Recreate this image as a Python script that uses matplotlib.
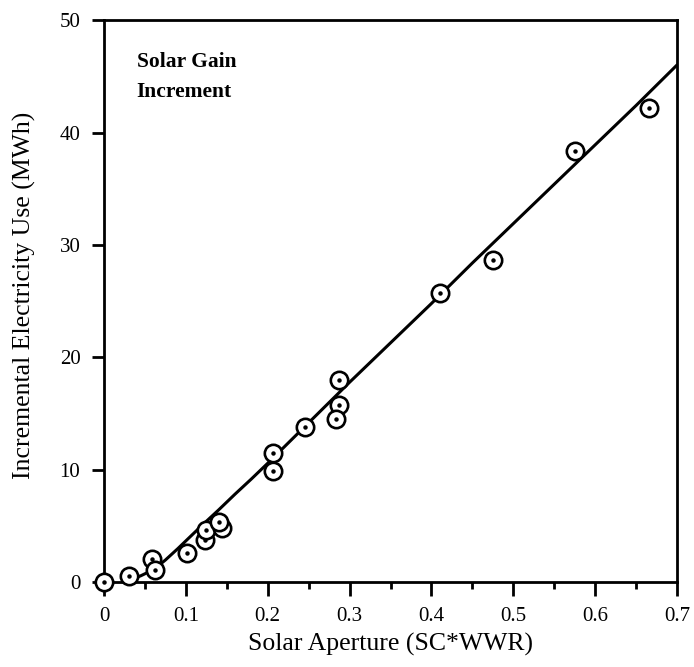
import matplotlib
matplotlib.use("Agg")
import matplotlib.pyplot as plt
from matplotlib.ticker import MultipleLocator

# Simulated cases: solar aperture vs. incremental electricity use
aperture = [0.059, 0.062, 0.0, 0.030, 0.101, 0.123, 0.124, 0.144, 0.141,
            0.206, 0.206, 0.245, 0.287, 0.284, 0.287, 0.410, 0.475, 0.575, 0.666]
electricity = [2.1, 1.15, 0.0, 0.6, 2.6, 3.8, 4.65, 4.8, 5.4,
               11.5, 9.95, 13.85, 15.8, 14.5, 18.0, 25.7, 28.7, 38.4, 42.15]

# Regression curve
fit_x = [0.035, 0.045, 0.055, 0.065, 0.075, 0.09, 0.10, 0.12, 0.14, 0.16,
         0.18, 0.20, 0.225, 0.25, 0.275, 0.30, 0.35, 0.40, 0.45, 0.50,
         0.55, 0.60, 0.65, 0.70]
fit_y = [0.3, 0.6, 0.95, 1.4, 2.0, 3.0, 3.7, 5.1, 6.45, 7.85,
         9.2, 10.6, 12.4, 14.2, 16.0, 17.8, 21.3, 24.8, 28.4, 31.9,
         35.4, 38.9, 42.4, 46.0]

x_ticks = [0, 0.1, 0.2, 0.3, 0.4, 0.5, 0.6, 0.7]
x_tick_labels = ["0", "0.1", "0.2", "0.3", "0.4", "0.5", "0.6", "0.7"]
y_ticks = [0, 10, 20, 30, 40, 50]

plt.rcParams["font.family"] = ["Liberation Serif", "DejaVu Serif"]

fig = plt.figure(figsize=(6.94, 6.67), dpi=100)
ax = fig.add_axes([0.1499, 0.1267, 0.8256, 0.8433])

ax.plot(fit_x, fit_y, color="black", lw=2.2, solid_capstyle="round",
        solid_joinstyle="round", zorder=2)

# open circles with a centre dot
for xv, yv in zip(aperture, electricity):
    ax.plot([xv], [yv], marker="o", ms=12.5, mfc="white", mec="black",
            mew=1.9, ls="none", clip_on=False, zorder=3)
    ax.plot([xv], [yv], marker="o", ms=2.2, mfc="black", mec="black",
            ls="none", clip_on=False, zorder=3)

ax.set_xlim(0, 0.7)
ax.set_ylim(0, 50)
ax.set_xticks(x_ticks)
ax.set_xticklabels(x_tick_labels)
ax.set_yticks(y_ticks)
ax.xaxis.set_minor_locator(MultipleLocator(0.05))

for s in ax.spines.values():
    s.set_linewidth(2.0)

ax.tick_params(axis="x", which="major", direction="out", length=10, width=2,
               labelsize=15, pad=8)
ax.tick_params(axis="x", which="minor", direction="out", length=5, width=2)
ax.tick_params(axis="y", which="major", direction="out", length=9, width=2,
               labelsize=15, pad=8)

ax.set_xlabel("Solar Aperture (SC*WWR)", fontsize=18.5)
ax.set_ylabel("Incremental Electricity Use (MWh)", fontsize=18.5)
ax.xaxis.set_label_coords(0.5, -0.09)
ax.yaxis.set_label_coords(-0.118, 0.511)

ax.text(0.040, 45.8, "Solar Gain", fontsize=15.5, fontweight="bold",
        ha="left", va="baseline")
ax.text(0.040, 43.2, "Increment", fontsize=15.5, fontweight="bold",
        ha="left", va="baseline")

fig.savefig("out.png", dpi=100)
